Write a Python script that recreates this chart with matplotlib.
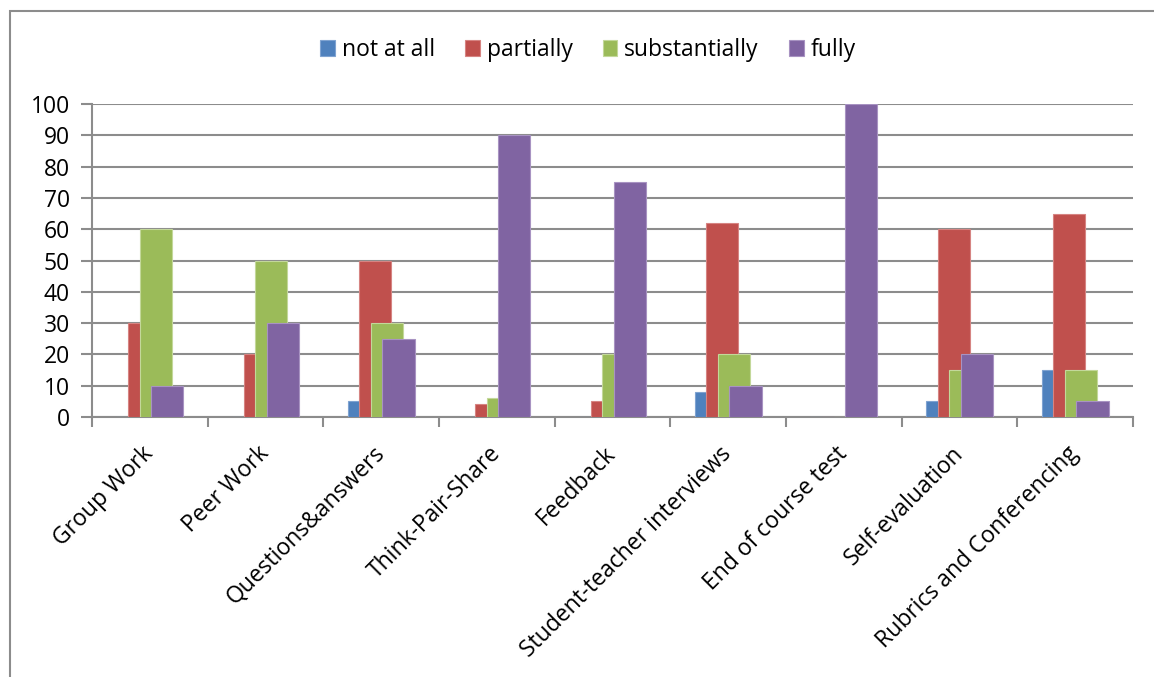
import numpy as np
import matplotlib.pyplot as plt
from matplotlib.patches import Rectangle
from matplotlib.ticker import FixedLocator

plt.rcParams['font.family'] = ['Open Sans', 'DejaVu Sans']

# Survey results per assessment technique (percent)
categories = ['Group Work', 'Peer Work', 'Questions&answers', 'Think-Pair-Share',
              'Feedback', 'Student-teacher interviews', 'End of course test',
              'Self-evaluation', 'Rubrics and Conferencing']
not_at_all = [0, 0, 5, 0, 0, 8, 0, 5, 15]
partially = [30, 20, 50, 4, 5, 62, 0, 60, 65]
substantially = [60, 50, 30, 6, 20, 20, 0, 15, 15]
fully = [10, 30, 25, 90, 75, 10, 100, 20, 5]

series = [('not at all', not_at_all, '#4F81BD', '#7FA3D1'),
          ('partially', partially, '#C0504D', '#D68482'),
          ('substantially', substantially, '#9BBB59', '#C3D89A'),
          ('fully', fully, '#8064A2', '#A893C2')]

fig = plt.figure(figsize=(11.54, 6.77), dpi=100)
ax = fig.add_axes([92/1154, 1 - 417/677, (1133 - 92)/1154, (417 - 104)/677])

x = np.arange(len(categories))
width = 0.277
step = 0.1
handles = []
for i, (name, vals, color, edge) in enumerate(series):
    offset = (i - 1.5) * step
    b = ax.bar(x + offset, vals, width, color=color, edgecolor=edge,
               linewidth=0.8, label=name, zorder=3 + i)
    handles.append(b)

ax.set_xlim(-0.5, len(categories) - 0.5)
ax.set_ylim(0, 100)
ax.set_yticks(np.arange(0, 101, 10))
ax.yaxis.grid(True, color='#8C8C8C', linewidth=1.5, zorder=0)
ax.set_axisbelow(True)

for s in ['top', 'right']:
    ax.spines[s].set_visible(False)
for s in ['left', 'bottom']:
    ax.spines[s].set_color('#8C8C8C')
    ax.spines[s].set_linewidth(1.5)

ax.tick_params(axis='y', direction='out', length=8, width=1.5, color='#8C8C8C',
               labelsize=16.5, pad=8)
ax.set_xticks(x)
ax.set_xticklabels(categories, rotation=45, ha='right', va='center',
                   rotation_mode='anchor', fontsize=16.5)
ax.tick_params(axis='x', which='major', length=0, pad=24)
ax.xaxis.set_minor_locator(FixedLocator(np.arange(-0.5, len(categories), 1)))
ax.tick_params(axis='x', which='minor', direction='out', length=7, width=1.5,
               color='#8C8C8C')

fig.legend(handles=handles, loc='center', bbox_to_anchor=(588/1154, 1 - 50/677),
           ncol=4, frameon=False, fontsize=16.5, handlelength=0.65,
           handleheight=0.65, handletextpad=0.3, columnspacing=1.3)

# outer chart frame
fig.patches.append(Rectangle((10/1154, -0.1), 1.2, 1.1 - 11/677,
                             transform=fig.transFigure, fill=False,
                             edgecolor='#8C8C8C', linewidth=1.5))

fig.savefig('out.png', dpi=100)
